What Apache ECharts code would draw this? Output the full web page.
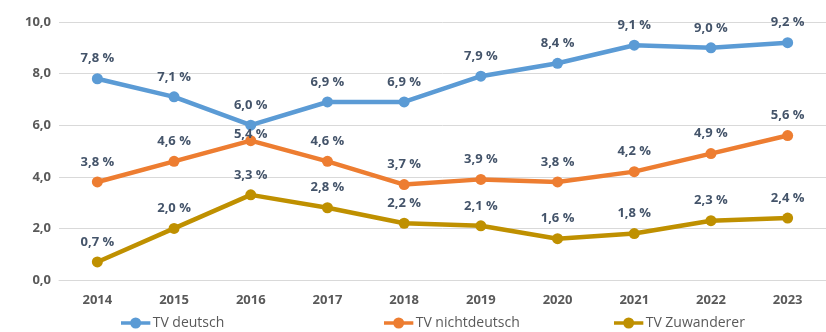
<!DOCTYPE html>
<html>
<head>
<meta charset="utf-8">
<script src="https://cdn.jsdelivr.net/npm/echarts@6/dist/echarts.min.js"></script>
<style>html,body{margin:0;padding:0;background:#fff}#c{width:826px;height:332px}</style>
</head>
<body>
<div id="c"></div>
<script>
const years = ['2014','2015','2016','2017','2018','2019','2020','2021','2022','2023'];
const tvDeutsch = [7.8, 7.1, 6.0, 6.9, 6.9, 7.9, 8.4, 9.1, 9.0, 9.2];
const tvNichtdeutsch = [3.8, 4.6, 5.4, 4.6, 3.7, 3.9, 3.8, 4.2, 4.9, 5.6];
const tvZuwanderer = [0.7, 2.0, 3.3, 2.8, 2.2, 2.1, 1.6, 1.8, 2.3, 2.4];
const seriesNames = ['TV deutsch', 'TV nichtdeutsch', 'TV Zuwanderer'];
const colors = ['#5b9bd5', '#ed7d31', '#bf9000'];

const fmt = v => v.toFixed(1).replace('.', ',') + ' %';
const chart = echarts.init(document.getElementById('c'));
const FONT = 'Open Sans, Liberation Sans, sans-serif';

function mkSeries(name, vals, color, special) {
  return {
    name: name,
    type: 'line',
    data: vals.map((v, i) => {
      const d = { value: v };
      if (special && special[i] !== undefined) d.label = { distance: special[i] };
      return d;
    }),
    symbol: 'circle',
    symbolSize: 11,
    lineStyle: { width: 4.5, color: color },
    itemStyle: { color: color },
    label: {
      show: true,
      position: 'top',
      distance: 8,
      formatter: p => fmt(p.value),
      color: '#44546a',
      fontFamily: FONT,
      fontWeight: 'bold',
      fontSize: 13
    },
    z: 3
  };
}

const legendBase = {
  icon: 'path://M0,8 L32,8 L32,12 L0,12 Z M10,10 A6,6 0 1 1 22,10 A6,6 0 1 1 10,10 Z',
  itemWidth: 32, itemHeight: 11, top: 311,
  textStyle: { color: '#595959', fontSize: 14, fontFamily: FONT, padding: [0,0,0,-4] }
};

chart.setOption({
  animation: false,
  backgroundColor: '#fff',
  grid: { left: 59, width: 770, top: 22, height: 258 },
  legend: [
    Object.assign({}, legendBase, { left: 116, data: [seriesNames[0]] }),
    Object.assign({}, legendBase, { left: 379, data: [seriesNames[1]] }),
    Object.assign({}, legendBase, { left: 609, data: [seriesNames[2]] })
  ],
  xAxis: {
    type: 'category',
    data: years,
    boundaryGap: true,
    axisLine: { show: true, lineStyle: { color: '#d9d9d9', width: 1 } },
    axisTick: { show: false },
    axisLabel: { color: '#595959', fontSize: 13, fontWeight: 'bold', margin: 14, fontFamily: FONT }
  },
  yAxis: {
    type: 'value',
    min: 0, max: 10, interval: 2,
    axisLine: { show: false },
    axisTick: { show: false },
    splitLine: { lineStyle: { color: '#d9d9d9', width: 1 } },
    axisLabel: { color: '#595959', fontSize: 13, fontWeight: 'bold', margin: 8,
      fontFamily: FONT,
      formatter: v => v.toFixed(1).replace('.', ',') }
  },
  series: [
    mkSeries(seriesNames[0], tvDeutsch, colors[0]),
    mkSeries(seriesNames[1], tvNichtdeutsch, colors[1], { 2: -6 }),
    mkSeries(seriesNames[2], tvZuwanderer, colors[2])
  ]
});
</script>
</body>
</html>
